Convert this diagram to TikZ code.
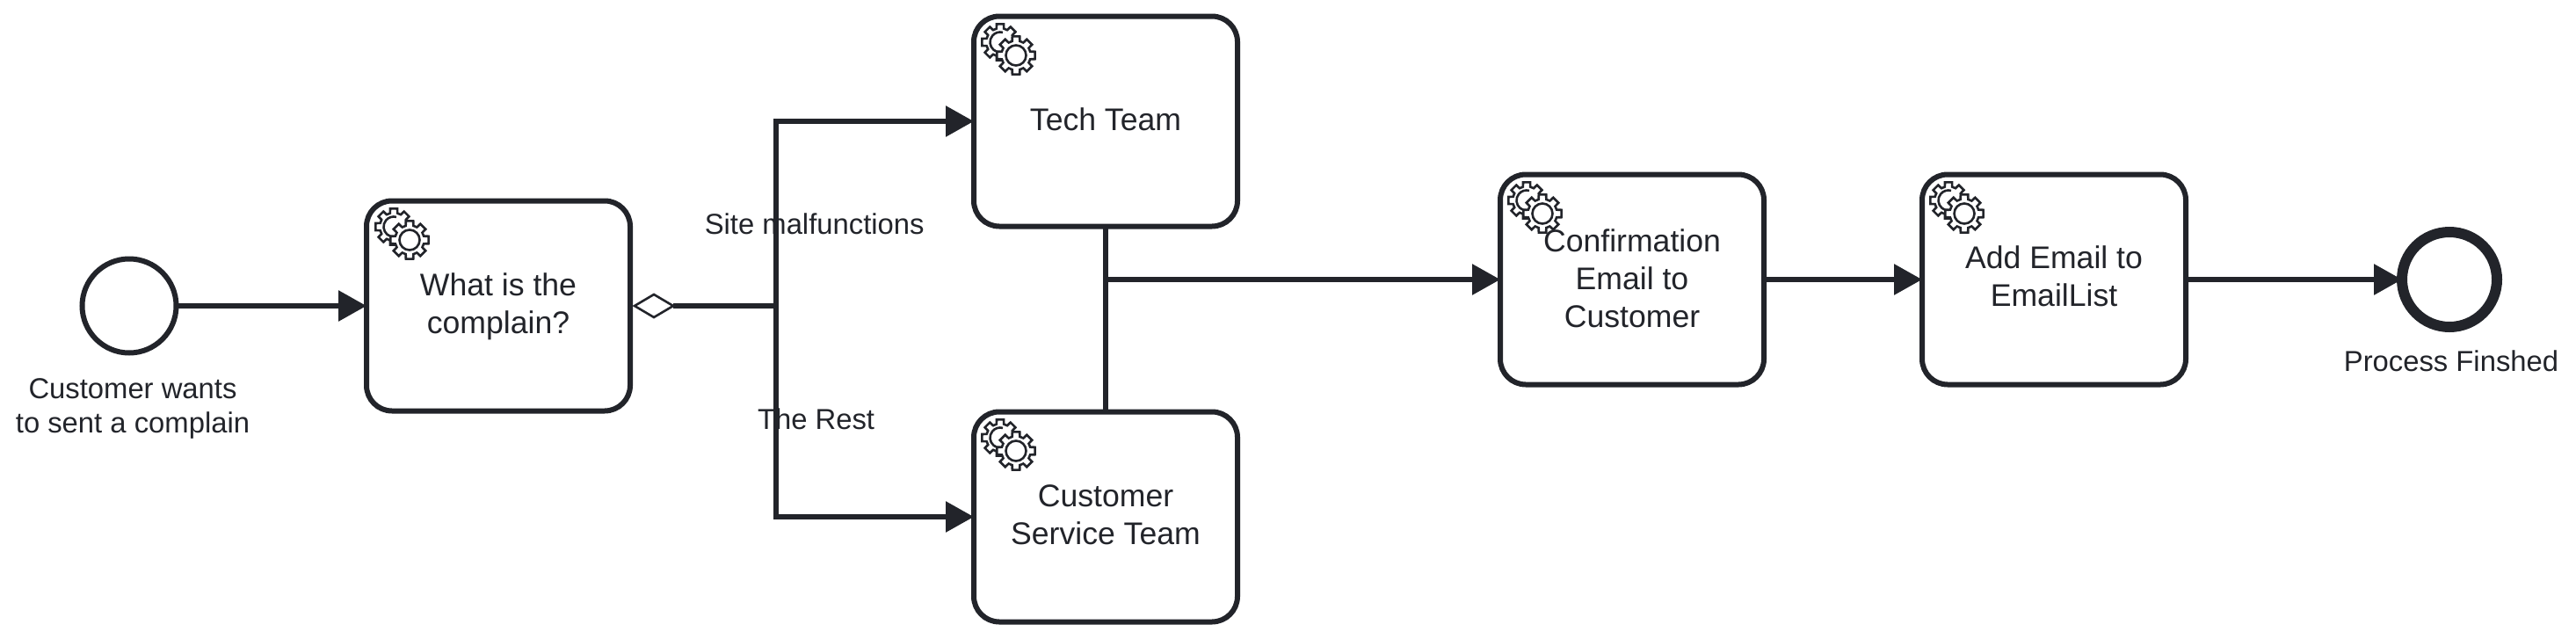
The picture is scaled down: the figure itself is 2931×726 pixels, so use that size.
\documentclass[tikz,border=0pt]{standalone}
\usepackage{fontspec}
\setmainfont{Liberation Sans}
\usetikzlibrary{arrows.meta,shapes.geometric}
\definecolor{ink}{HTML}{22242A}
\tikzset{
  x=1pt,y=-1pt,
  task/.style={draw=ink,line width=6pt,fill=white,rounded corners=29pt,minimum width=300pt,minimum height=239pt,inner sep=0pt,outer sep=0pt,align=center,text=ink,font=\fontsize{35.6}{43}\selectfont},
  lbl/.style={text=ink,align=center,inner sep=0pt,font=\fontsize{32.8}{38.7}\selectfont},
  flow/.style={draw=ink,line width=6pt,-{Triangle[length=32pt,width=34pt]}},
  plainflow/.style={draw=ink,line width=6pt},
  gearline/.style={draw=ink,line width=2.6pt,fill=white,line join=miter},
  pics/gear/.style={code={
    \draw[gearline] (-11:#1) \foreach \a in {0,45,...,315}{ -- (\a-11:#1) -- (\a+11:#1) -- (\a+15:0.76*#1) -- (\a+30:0.76*#1)} -- cycle;
  }},
  pics/gears/.style={code={
    \pic at (33,33) {gear=21};
    \draw[draw=ink,line width=2.6pt] (33,33) ++(40:11.5) arc[start angle=40,end angle=285,radius=11.5];
    \pic at (51,48) {gear=22};
    \draw[gearline] (51,48) circle[radius=11.5];
  }}
}
\begin{document}
\begin{tikzpicture}
\useasboundingbox (0,0) rectangle (2931,726);
\node[circle,draw=ink,line width=6pt,fill=white,minimum size=107pt,inner sep=0pt,outer sep=0pt] (start) at (147,348) {};
\node[lbl] (startl) at (151,465) {Customer wants\\to sent a complain};
\node[task,text depth=5pt] (what) at (567,348) {What is the\\complain?};
\node[task,text depth=4pt] (tech) at (1258,138) {Tech Team};
\node[task,text depth=5pt] (cust) at (1258,588) {Customer\\Service Team};
\node[task,text depth=3pt] (conf) at (1857,318) {Confirmation\\Email to\\Customer};
\node[task,text depth=7pt] (add) at (2337,318) {Add Email to\\EmailList};
\node[circle,draw=ink,line width=12pt,fill=white,minimum size=108pt,inner sep=0pt,outer sep=0pt] (end) at (2787,318) {};
\node[lbl] (endl) at (2789,410.5) {Process Finshed};
\node[diamond,draw=ink,line width=2.6pt,fill=white,minimum width=44pt,minimum height=26pt,inner sep=0pt,outer sep=0pt] (gw) at (744,348) {};
\coordinate (split) at (882.5,348);
\coordinate (merge) at (1258,318);
\draw[flow] (start) -- (what);
\draw[plainflow] (gw) -- (split);
\draw[flow] (split) |- (tech.west);
\draw[flow] (split) |- (cust.west);
\draw[plainflow] (merge |- tech.south) -- (merge |- cust.north);
\draw[flow] (merge) -- (conf);
\draw[flow] (conf) -- (add);
\draw[flow] (add) -- (end);
\node[lbl] (site) at (926.7,254.5) {Site malfunctions};
\node[lbl] (rest) at (928.6,476.5) {The Rest};
\pic at (415,225) {gears};
\pic at (1105,15) {gears};
\pic at (1105,465) {gears};
\pic at (1704,195) {gears};
\pic at (2184,195) {gears};
\end{tikzpicture}
\end{document}
